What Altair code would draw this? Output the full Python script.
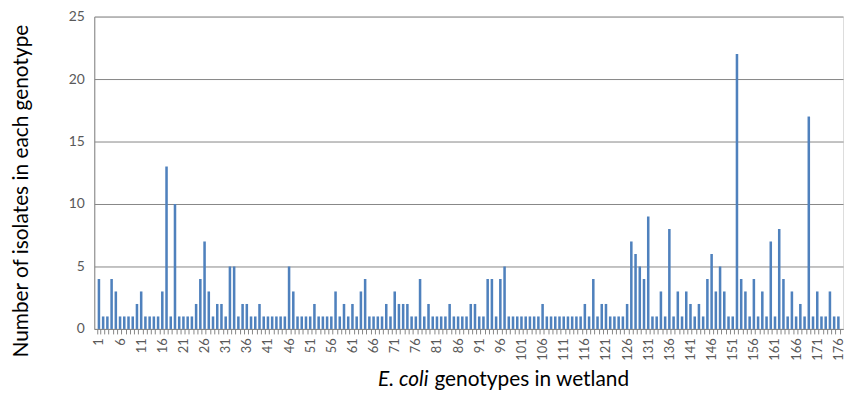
import altair as alt
import pandas as pd

genotypes = list(range(1, 177))
isolates = [
    4, 1, 1, 4, 3, 1, 1, 1, 1, 2,            # 1-10
    3, 1, 1, 1, 1, 3, 13, 1, 10, 1,          # 11-20
    1, 1, 1, 2, 4, 7, 3, 1, 2, 2,            # 21-30
    1, 5, 5, 1, 2, 2, 1, 1, 2, 1,            # 31-40
    1, 1, 1, 1, 1, 5, 3, 1, 1, 1,            # 41-50
    1, 2, 1, 1, 1, 1, 3, 1, 2, 1,            # 51-60
    2, 1, 3, 4, 1, 1, 1, 1, 2, 1,            # 61-70
    3, 2, 2, 2, 1, 1, 4, 1, 2, 1,            # 71-80
    1, 1, 1, 2, 1, 1, 1, 1, 2, 2,            # 81-90
    1, 1, 4, 4, 1, 4, 5, 1, 1, 1,            # 91-100
    1, 1, 1, 1, 1, 2, 1, 1, 1, 1,            # 101-110
    1, 1, 1, 1, 1, 2, 1, 4, 1, 2,            # 111-120
    2, 1, 1, 1, 1, 2, 7, 6, 5, 4,            # 121-130
    9, 1, 1, 3, 1, 8, 1, 3, 1, 3,            # 131-140
    2, 1, 2, 1, 4, 6, 3, 5, 3, 1,            # 141-150
    1, 22, 4, 3, 1, 4, 1, 3, 1, 7,           # 151-160
    1, 8, 4, 1, 3, 1, 2, 1, 17, 1,           # 161-170
    3, 1, 1, 3, 1, 1,                        # 171-176
]
assert len(isolates) == len(genotypes)

x_title_italic = "E. coli"
x_title_rest = "genotypes in wetland"
y_title = "Number of isolates in each genotype"

df = pd.DataFrame({"genotype": genotypes, "isolates": isolates})

FONT = "Lato"
W, H = 755, 315

bars = alt.Chart(df).mark_bar(color="#4F81BD").encode(
    x=alt.X(
        "genotype:O",
        sort=genotypes,
        scale=alt.Scale(paddingInner=0.4, paddingOuter=0.8),
        axis=alt.Axis(
            title=None,
            labelExpr="(datum.value - 1) % 5 == 0 ? datum.label : ''",
            labelAngle=270,
            labelFont=FONT,
            labelFontSize=13,
            labelColor="#595959",
            labelPadding=4,
            labelOverlap=False,
            tickBand="extent",
            tickSize=5,
            tickColor="#868686",
            domainColor="#868686",
            grid=False,
        ),
    ),
    y=alt.Y(
        "isolates:Q",
        scale=alt.Scale(domain=[0, 25]),
        axis=alt.Axis(
            title=None,
            values=[0, 5, 10, 15, 20, 25],
            labelFont=FONT,
            labelFontSize=14,
            labelColor="#595959",
            labelPadding=10,
            ticks=False,
            domainColor="#868686",
            gridColor="#868686",
            gridWidth=1,
        ),
    ),
)

title_df = pd.DataFrame({"a": [x_title_italic], "b": [x_title_rest], "c": [y_title]})

t_italic = alt.Chart(title_df).mark_text(
    font=FONT, fontSize=21, fontStyle="italic", align="right", baseline="middle", color="#000000"
).encode(text="a:N", x=alt.value(337), y=alt.value(367))

t_rest = alt.Chart(title_df).mark_text(
    font=FONT, fontSize=21, align="left", baseline="middle", color="#000000"
).encode(text="b:N", x=alt.value(343), y=alt.value(367))

t_y = alt.Chart(title_df).mark_text(
    font=FONT, fontSize=21, angle=270, align="center", baseline="middle", color="#000000"
).encode(text="c:N", x=alt.value(-73), y=alt.value(176))

chart = alt.layer(bars, t_italic, t_rest, t_y).properties(
    width=W,
    height=H,
    autosize=alt.AutoSizeParams(type="none"),
    padding={"left": 87, "top": 7, "right": 3, "bottom": 70},
).configure_view(stroke=None).configure(background="white")

chart.save("out.html", embed_options={"renderer": "svg", "actions": False})
